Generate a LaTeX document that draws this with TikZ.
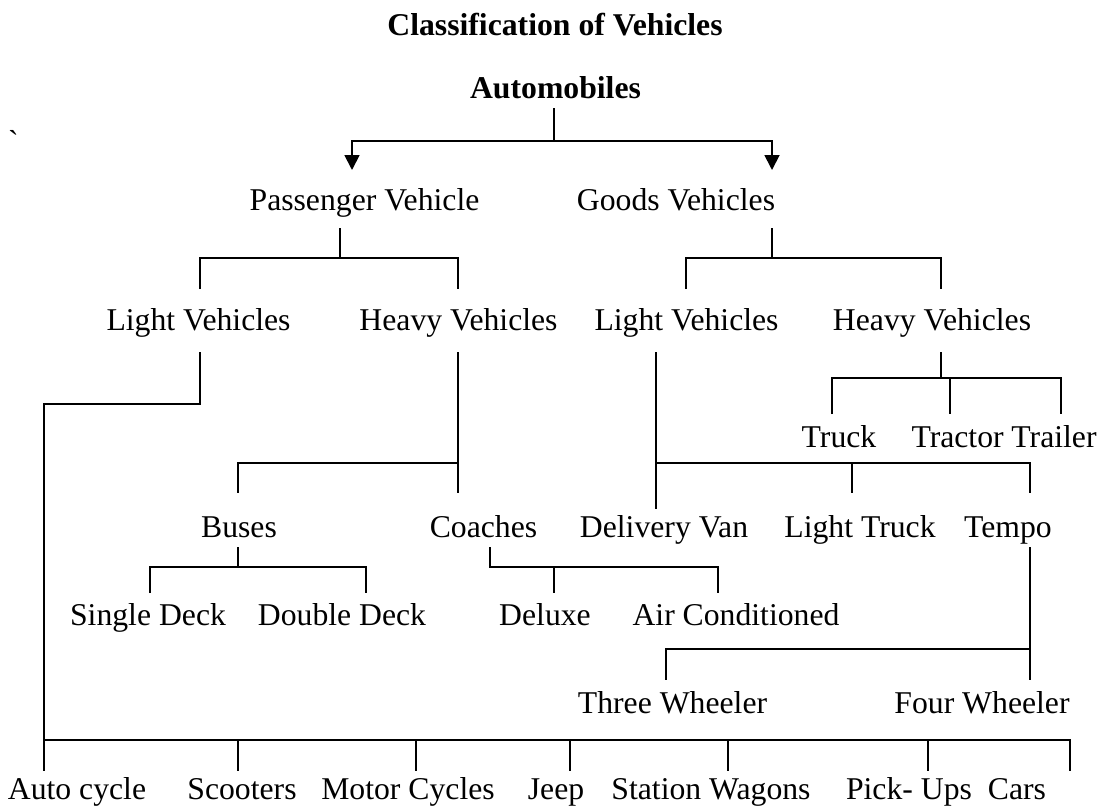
\documentclass[tikz,border=0pt]{standalone}
\usepackage{fontspec}
\setmainfont{Liberation Serif}
\usetikzlibrary{arrows.meta}
\begin{document}
\begin{tikzpicture}[x=1pt,y=-1pt,
  lbl/.style={anchor=base,inner sep=0pt,font=\fontsize{31.7}{38}\selectfont},
  ttl/.style={anchor=base,inner sep=0pt,font=\fontsize{31.7}{38}\selectfont\bfseries},
  conn/.style={draw,line width=1.8pt},
  arr/.style={conn,-{Triangle[length=15pt,width=15pt]}}]
\useasboundingbox (0,0) rectangle (1105,807);
% titles
\node[ttl] (title) at (555,35) {Classification of Vehicles};
\node[ttl] (am) at (555.5,98) {Automobiles};
\node[lbl,anchor=base west] (tick) at (8,152) {\textasciigrave};
% level 2
\node[lbl] (pv) at (364.5,210) {Passenger Vehicle};
\node[lbl] (gv) at (676,210) {Goods Vehicles};
% level 3
\node[lbl] (plv) at (198.5,330) {Light Vehicles};
\node[lbl] (phv) at (458.5,330) {Heavy Vehicles};
\node[lbl] (glv) at (686.5,330) {Light Vehicles};
\node[lbl] (ghv) at (932,330) {Heavy Vehicles};
% heavy goods
\node[lbl] (truck) at (839,447) {Truck};
\node[lbl] (tractor) at (957.6,447) {Tractor};
\node[lbl] (trailer) at (1054,447) {Trailer};
% level 4
\node[lbl] (buses) at (239,537) {Buses};
\node[lbl] (coaches) at (483.5,537) {Coaches};
\node[lbl] (dvan) at (664,537) {Delivery Van};
\node[lbl] (ltruck) at (860,537) {Light Truck};
\node[lbl] (tempo) at (1008,537) {Tempo};
% level 5
\node[lbl] (sdeck) at (148,625) {Single Deck};
\node[lbl] (ddeck) at (342,625) {Double Deck};
\node[lbl] (deluxe) at (545,625) {Deluxe};
\node[lbl] (aircon) at (736,625) {Air Conditioned};
% tempo children
\node[lbl] (three) at (672.5,713) {Three Wheeler};
\node[lbl] (four) at (982,713) {Four Wheeler};
% bottom row
\node[lbl] (autocycle) at (77,799) {Auto cycle};
\node[lbl] (scooters) at (242,799) {Scooters};
\node[lbl] (motor) at (408,799) {Motor Cycles};
\node[lbl] (jeep) at (556,799) {Jeep};
\node[lbl] (station) at (711,799) {Station Wagons};
\node[lbl] (pickups) at (909,799) {Pick- Ups};
\node[lbl] (cars) at (1017,799) {Cars};

% Automobiles -> Passenger / Goods
\draw[conn] (554,108) -- (554,141);
\draw[arr] (554,141) -| (352,170);
\draw[arr] (554,141) -| (772,170);
% Passenger Vehicle
\draw[conn] (340,228) -- (340,258);
\draw[conn] (200,289) -- (200,258) -- (458,258) -- (458,289);
% Goods Vehicles
\draw[conn] (772,228) -- (772,258);
\draw[conn] (686,289) -- (686,258) -- (941,258) -- (941,289);
% Passenger light vehicles -> bottom row
\draw[conn] (200,352) -- (200,404) -- (44,404) -- (44,771);
\draw[conn] (44,740) -- (1070,740) -- (1070,771);
\foreach \x in {238,416,570,728,928} \draw[conn] (\x,740) -- (\x,771);
% Passenger heavy vehicles
\draw[conn] (458,352) -- (458,493);
\draw[conn] (458,463) -- (238,463) -- (238,493);
% Buses
\draw[conn] (238,547) -- (238,567);
\draw[conn] (150,593) -- (150,567) -- (366,567) -- (366,593);
% Coaches
\draw[conn] (490,547) -- (490,567) -- (718,567) -- (718,593);
\draw[conn] (554,567) -- (554,593);
% Goods light vehicles
\draw[conn] (656,352) -- (656,509);
\draw[conn] (656,463) -- (1030,463) -- (1030,493);
\draw[conn] (852,463) -- (852,493);
% Goods heavy vehicles
\draw[conn] (941,352) -- (941,378);
\draw[conn] (832,414) -- (832,378) -- (1061,378) -- (1061,414);
\draw[conn] (950,378) -- (950,414);
% Tempo
\draw[conn] (1030,547) -- (1030,680);
\draw[conn] (1030,649) -- (666,649) -- (666,680);
\end{tikzpicture}
\end{document}
